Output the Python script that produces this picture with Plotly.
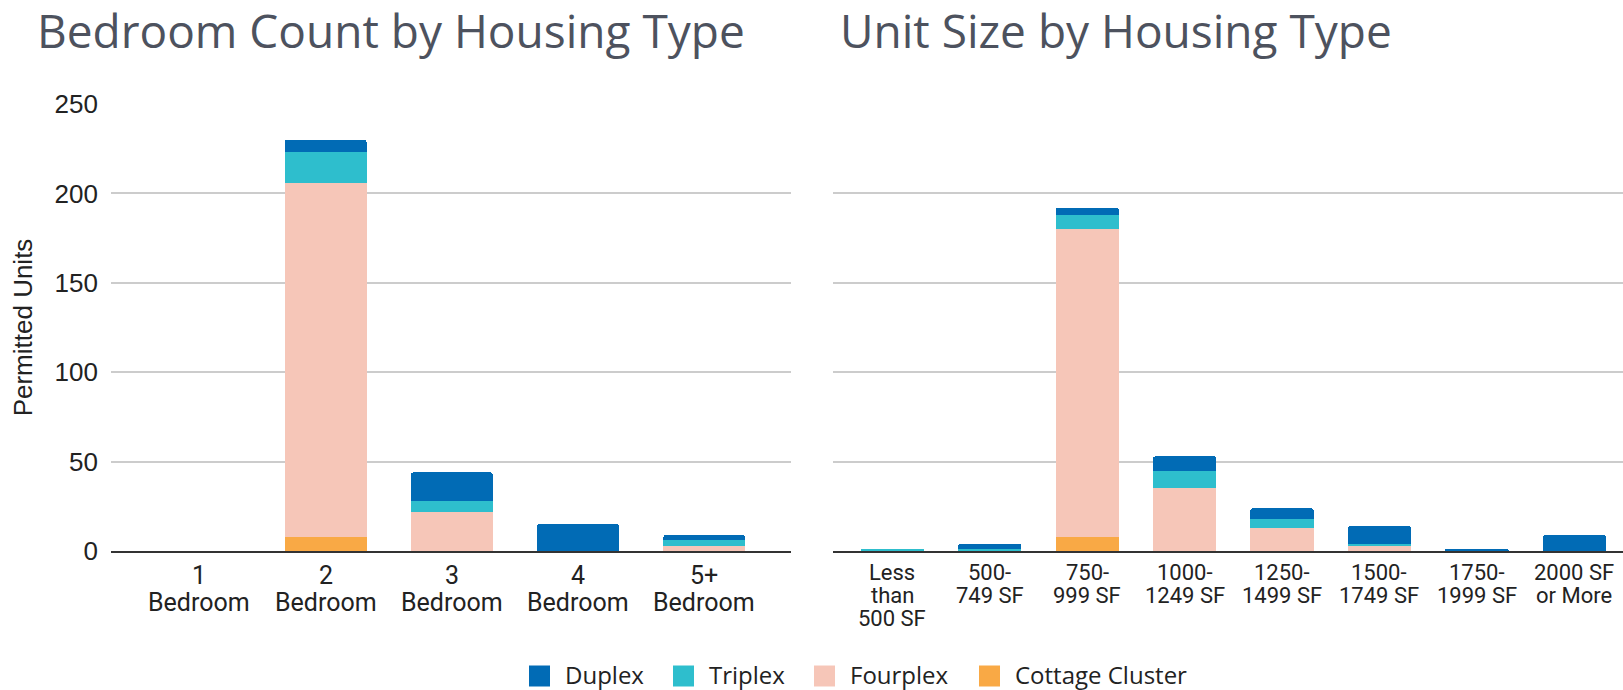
import plotly.graph_objects as go

# ---- data ----
BED_CATS = ["1<br>Bedroom", "2<br>Bedroom", "3<br>Bedroom", "4<br>Bedroom", "5+<br>Bedroom"]
BED_COTTAGE = [0, 8, 0, 0, 0]
BED_FOURPLEX = [0, 198, 22, 0, 3]
BED_TRIPLEX = [0, 17, 6, 0, 3]
BED_DUPLEX = [0, 7, 16, 15, 3]

SIZE_CATS = ["Less<br>than<br>500 SF", "500-<br>749 SF", "750-<br>999 SF", "1000-<br>1249 SF",
             "1250-<br>1499 SF", "1500-<br>1749 SF", "1750-<br>1999 SF", "2000 SF<br>or More"]
SIZE_COTTAGE = [0, 0, 8, 0, 0, 0, 0, 0]
SIZE_FOURPLEX = [0, 0, 172, 35, 13, 3, 0, 0]
SIZE_TRIPLEX = [1, 1, 8, 10, 5, 1, 0, 0]
SIZE_DUPLEX = [0, 3, 4, 8, 6, 10, 1, 9]

SERIES = [
    ("Cottage Cluster", "#f9a945", BED_COTTAGE, SIZE_COTTAGE),
    ("Fourplex", "#f6c6b8", BED_FOURPLEX, SIZE_FOURPLEX),
    ("Triplex", "#2ebecd", BED_TRIPLEX, SIZE_TRIPLEX),
    ("Duplex", "#016bb5", BED_DUPLEX, SIZE_DUPLEX),
]

W, H = 1623, 690
M_L, M_T, M_B = 111, 104, 139
PLOT_BOTTOM = H - M_B
PLOT_H = H - M_T - M_B
PLOT_W = W - M_L

# legend swatch left edges (px), in display order Duplex..Cottage Cluster
LEGEND_LEFT = {"Duplex": 529, "Triplex": 673, "Fourplex": 814, "Cottage Cluster": 979}
LEGEND_Y = 676
SWATCH = 21


def ypaper(py):
    # pixel row (from top) -> paper coordinate
    return (PLOT_BOTTOM - py) / PLOT_H


def xpaper(px):
    return (px - M_L) / PLOT_W


fig = go.Figure()
for name, color, bed_vals, size_vals in SERIES:
    fig.add_trace(go.Bar(
        x=list(range(len(BED_CATS))), y=bed_vals, name=name, marker_color=color,
        marker_line_width=0, showlegend=False, xaxis="x", yaxis="y",
    ))
    fig.add_trace(go.Bar(
        x=list(range(len(SIZE_CATS))), y=size_vals, name=name, marker_color=color,
        marker_line_width=0, showlegend=False, xaxis="x2", yaxis="y2",
    ))

# category labels drawn line by line so the line spacing stays tight
annotations = []
for cats, xref, size, centers in [
    (BED_CATS, "x", 25, [575, 602]),
    (SIZE_CATS, "x2", 22, [572, 595, 618]),
]:
    for i, cat in enumerate(cats):
        for j, line in enumerate(cat.split("<br>")):
            annotations.append(dict(
                text=line, x=i, xref=xref, y=ypaper(centers[j]), yref="paper",
                xanchor="center", yanchor="middle", showarrow=False,
                font=dict(family="Roboto", size=size, color="#222222"),
            ))

annotations += [
    dict(text="Bedroom Count by Housing Type", xref="paper", yref="paper",
         x=-0.0496, y=ypaper(30), xanchor="left", yanchor="middle", showarrow=False,
         borderpad=0, font=dict(family="Open Sans", size=46, color="#4d525e")),
    dict(text="Unit Size by Housing Type", xref="paper", yref="paper",
         x=0.4818, y=ypaper(30), xanchor="left", yanchor="middle", showarrow=False,
         borderpad=0, font=dict(family="Open Sans", size=46, color="#4d525e")),
]

# legend: square swatches + labels along the bottom
shapes = []
for name, color, _, _ in SERIES:
    left = LEGEND_LEFT[name]
    shapes.append(dict(
        type="rect", xref="paper", yref="paper",
        x0=xpaper(left), x1=xpaper(left + SWATCH),
        y0=ypaper(LEGEND_Y + SWATCH / 2), y1=ypaper(LEGEND_Y - SWATCH / 2),
        fillcolor=color, line=dict(width=0), layer="above",
    ))
    annotations.append(dict(
        text=name, xref="paper", yref="paper",
        x=xpaper(left + SWATCH + 14), y=ypaper(LEGEND_Y - 2),
        xanchor="left", yanchor="middle", showarrow=False, borderpad=0,
        font=dict(family="Open Sans", size=24, color="#222222"),
    ))

grid = dict(showgrid=True, gridcolor="#cccccc", gridwidth=2, zeroline=False)

fig.update_layout(
    barmode="stack",
    bargap=0.35,
    barcornerradius=3,
    width=W, height=H,
    margin=dict(l=M_L, r=0, t=M_T, b=M_B),
    plot_bgcolor="white", paper_bgcolor="white",
    showlegend=False,
    xaxis=dict(domain=[0, 0.450], range=[-0.70, 4.69], showticklabels=False,
               showgrid=False, zeroline=False,
               showline=True, linecolor="#333333", linewidth=2, automargin=False),
    yaxis=dict(range=[0, 250], tickvals=[0, 50, 100, 150, 200, 250], **grid,
               tickfont=dict(family="Liberation Sans", size=26, color="#222222"),
               ticklabelstandoff=12, automargin=False,
               title=dict(text="Permitted Units", standoff=14,
                          font=dict(family="Liberation Sans", size=26, color="#222222"))),
    xaxis2=dict(domain=[0.4775, 1.0], range=[-0.61, 7.5], showticklabels=False,
                showgrid=False, zeroline=False,
                showline=True, linecolor="#333333", linewidth=2,
                anchor="y2", automargin=False),
    yaxis2=dict(range=[0, 250], tickvals=[0, 50, 100, 150, 200, 250], **grid,
                showticklabels=False, anchor="x2", automargin=False),
    annotations=annotations,
    shapes=shapes,
)

fig.write_html("out.html", config={"displayModeBar": False},
               post_script="document.body.style.margin='0';")
